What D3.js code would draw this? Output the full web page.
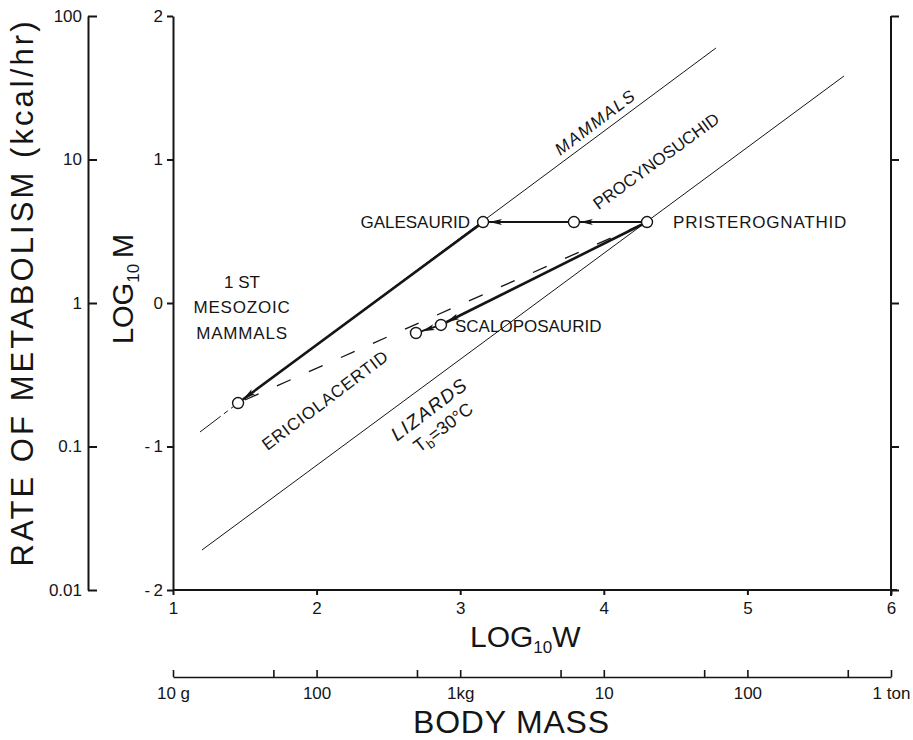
<!DOCTYPE html>
<html><head><meta charset="utf-8">
<script src="https://cdn.jsdelivr.net/npm/d3@7"></script>
<style>
body{margin:0;background:#fff}
text{font-family:"Liberation Sans",Arial,sans-serif;fill:#151515}
</style>
</head><body>
<svg id="c" width="913" height="740"></svg>
<script>
// ---- data ----
const logWTicks = [1, 2, 3, 4, 5, 6];
const logMTicks = [-2, -1, 0, 1, 2];
const rateTicks = [0.01, 0.1, 1, 10, 100];
const rateTickLabels = ["0.01", "0.1", "1", "10", "100"];
const massTicks = [10, 50, 100, 500, 1000, 5000, 1e4, 5e4, 1e5, 5e5, 1e6];
const massTickLabels = ["10 g", "", "100", "", "1kg", "", "10", "", "100", "", "1 ton"];

const taxa = ["1ST MESOZOIC MAMMALS", "ERICIOLACERTID", "SCALOPOSAURID", "GALESAURID", "PROCYNOSUCHID", "PRISTEROGNATHID"];
const taxonLogW = [1.453, 2.692, 2.866, 3.159, 3.792, 4.301];
const taxonLogM = [-0.697, -0.209, -0.153, 0.564, 0.564, 0.564];
const arrowFrom = [5, 4, 3, 5, 2];
const arrowTo   = [4, 3, 0, 2, 1];
const arrowWidth = [2, 2, 2.6, 2.6, 2];

const mammalsLogW = [1.188, 1.453, 4.781];
const mammalsLogM = [-0.899, -0.697, 1.777];
const lizardsLogW = [1.202, 5.673];
const lizardsLogM = [-1.721, 1.582];

// ---- scales ----
const svg = d3.select("#c");
const x = d3.scaleLinear().domain([1, 6]).range([173, 891]);
const y = d3.scaleLinear().domain([-2, 2]).range([590, 16]);
const rate = d3.scaleLog().domain([0.01, 100]).range([590, 16]);
const mass = d3.scaleLog().domain([10, 1e6]).range([173, 891]);

const ink = "#151515";
function styleAxis(g, w) {
  g.select(".domain").attr("stroke", ink).attr("stroke-width", w);
  g.selectAll(".tick line").attr("stroke", ink).attr("stroke-width", 2);
  g.selectAll(".tick text").attr("font-size", 17).attr("fill", ink)
    .attr("font-family", '"Liberation Sans",Arial,sans-serif');
}

// rate of metabolism (log) axis
const gRate = svg.append("g").attr("transform", "translate(88,0)")
  .call(d3.axisLeft(rate).tickValues(rateTicks).tickSize(-9).tickSizeOuter(0).tickPadding(6)
    .tickFormat((d, i) => rateTickLabels[i]));
styleAxis(gRate, 2);

// log M axis
const gM = svg.append("g").attr("transform", "translate(173,0)")
  .call(d3.axisLeft(y).tickValues(logMTicks).tickSize(6).tickSizeOuter(0).tickPadding(4)
    .tickFormat(d => d < 0 ? "-\u2009" + (-d) : String(d)));
styleAxis(gM, 2);

// right axis
const gR = svg.append("g").attr("transform", "translate(891,0)")
  .call(d3.axisRight(y).tickValues(logMTicks).tickSize(8).tickSizeOuter(0).tickFormat(""));
styleAxis(gR, 2);
gR.select(".domain").attr("d", "M0,16V596");

// log W axis
const gW = svg.append("g").attr("transform", "translate(0,590)")
  .call(d3.axisBottom(x).tickValues(logWTicks).tickSize(5).tickSizeOuter(0).tickPadding(7)
    .tickFormat(d3.format("d")));
styleAxis(gW, 2);
gW.select(".domain").attr("d", "M173,0H897");

// body mass axis
const gB = svg.append("g").attr("transform", "translate(0,677)")
  .call(d3.axisBottom(mass).tickValues(massTicks).tickSize(-7).tickSizeOuter(0).tickPadding(10)
    .tickFormat((d, i) => massTickLabels[i]));
styleAxis(gB, 1.6);
gB.selectAll(".tick line").attr("stroke-width", 1.6);

// ---- titles ----
svg.append("text").attr("transform", "translate(33,294) rotate(-90)")
  .attr("text-anchor", "middle").attr("font-size", 31).attr("textLength", 545)
  .attr("lengthAdjust", "spacing")
  .text("RATE OF METABOLISM (kcal/hr)");

const tM = svg.append("text").attr("transform", "translate(133,289) rotate(-90)")
  .attr("text-anchor", "middle").attr("font-size", 29);
tM.append("tspan").text("LOG");
tM.append("tspan").attr("font-size", 17).attr("dy", 6).text("10");
tM.append("tspan").attr("dy", -6).text("\u2009M");

const tW = svg.append("text").attr("x", 470).attr("y", 647).attr("font-size", 30);
tW.append("tspan").text("LOG");
tW.append("tspan").attr("font-size", 17).attr("dy", 6).text("10");
tW.append("tspan").attr("dy", -6).text("W");

svg.append("text").attr("x", 511).attr("y", 733).attr("text-anchor", "middle")
  .attr("font-size", 32).attr("textLength", 196).attr("lengthAdjust", "spacing")
  .text("BODY MASS");

// ---- reference lines ----
const line = d3.line().x(d => x(d[0])).y(d => y(d[1]));
const mam = mammalsLogW.map((w, i) => [w, mammalsLogM[i]]);
svg.append("path").attr("d", line(mam.slice(0, 2))).attr("fill", "none")
  .attr("stroke", ink).attr("stroke-width", 1).attr("stroke-dasharray", "26,4,5,4");
svg.append("path").attr("d", line(mam.slice(1))).attr("fill", "none")
  .attr("stroke", ink).attr("stroke-width", 1);
const liz = lizardsLogW.map((w, i) => [w, lizardsLogM[i]]);
svg.append("path").attr("d", line(liz)).attr("fill", "none")
  .attr("stroke", ink).attr("stroke-width", 1);

// ---- dashed trend (1st mesozoic mammals -> pristerognathid) ----
const R = 5.5;
function ends(i, j, s0, s1) {
  const x0 = x(taxonLogW[i]), y0 = y(taxonLogM[i]);
  const x1 = x(taxonLogW[j]), y1 = y(taxonLogM[j]);
  const L = Math.hypot(x1 - x0, y1 - y0), ux = (x1 - x0) / L, uy = (y1 - y0) / L;
  return [[x0 + ux * s0, y0 + uy * s0], [x1 - ux * s1, y1 - uy * s1]];
}
const dEnds = ends(0, 5, R + 2, R);
svg.append("line").attr("x1", dEnds[0][0]).attr("y1", dEnds[0][1])
  .attr("x2", dEnds[1][0]).attr("y2", dEnds[1][1])
  .attr("stroke", ink).attr("stroke-width", 1.3).attr("stroke-dasharray", "15,20");

// ---- arrows ----
svg.append("defs").append("marker").attr("id", "ah")
  .attr("viewBox", "0 0 13 8").attr("refX", 13).attr("refY", 4)
  .attr("markerWidth", 13).attr("markerHeight", 8).attr("markerUnits", "userSpaceOnUse")
  .attr("orient", "auto")
  .append("path").attr("d", "M0,1 L13,4 L0,7 L3,4 Z").attr("fill", ink);

arrowFrom.forEach((f, k) => {
  const e = ends(f, arrowTo[k], R, R + 0.5);
  svg.append("line").attr("x1", e[0][0]).attr("y1", e[0][1])
    .attr("x2", e[1][0]).attr("y2", e[1][1])
    .attr("stroke", ink).attr("stroke-width", arrowWidth[k]).attr("marker-end", "url(#ah)");
});

// ---- circles ----
svg.selectAll("circle.t").data(taxa).enter().append("circle").attr("class", "t")
  .attr("cx", (d, i) => x(taxonLogW[i])).attr("cy", (d, i) => y(taxonLogM[i]))
  .attr("r", R).attr("fill", "#fff").attr("stroke", ink).attr("stroke-width", 1.4);

// ---- annotations ----
const fs = 17;
function label(txt, tx, ty, anchor, rot, italic, size) {
  return svg.append("text").attr("transform", `translate(${tx},${ty}) rotate(${rot || 0})`)
    .attr("text-anchor", anchor).attr("dy", "0.36em").attr("font-size", size || fs)
    .attr("font-style", italic ? "italic" : "normal").text(txt);
}
label(taxa[3], 470, 222, "end");
label(taxa[5], 673, 222, "start").attr("letter-spacing", 0.8);
label(taxa[2], 455, 326, "start");
label("1 ST", 242, 282, "middle");
label("MESOZOIC", 242, 307, "middle").attr("letter-spacing", 0.8);
label("MAMMALS", 242, 333, "middle").attr("letter-spacing", 0.8);
label(taxa[4], 656, 161, "middle", -36);
label("MAMMALS", 595, 122, "middle", -37, true).attr("letter-spacing", 1.5);
label(taxa[1], 325, 400, "middle", -37).attr("letter-spacing", 0.8);
label("LIZARDS", 429, 409, "middle", -37, true, 19).attr("letter-spacing", 1.5);
const tb = label("", 443, 427, "middle", -37, false, 18);
tb.append("tspan").text("T");
tb.append("tspan").attr("font-size", 13).attr("dy", 4).text("b");
tb.append("tspan").attr("dy", -4).text("=30°C");
</script>
</body></html>
